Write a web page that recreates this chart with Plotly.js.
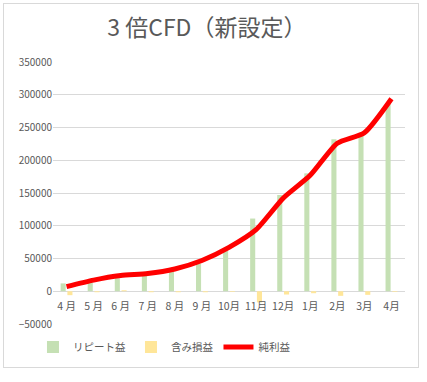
<!DOCTYPE html>
<html><head><meta charset="utf-8">
<script src="https://cdn.plot.ly/plotly-3.0.1.min.js"></script>
<style>
html,body{margin:0;padding:0;background:#fff;}
#wrap{position:absolute;left:3px;top:3px;width:414px;height:363px;border:1px solid #d9d9d9;}
#chart{width:414px;height:363px;}
</style></head>
<body><div id="wrap"><div id="chart"></div></div>
<script>
const months = ["4 月","5 月","6 月","7 月","8 月","9 月","10月","11月","12月","1月","2月","3月","4月"];
const repeatProfit = [12000,14000,20000,24000,29500,42000,62000,111000,147000,180000,232000,238000,287000];
const unrealizedLoss = [-6000,-1500,1500,-1500,-1500,-1500,-1000,-17000,-5000,-3000,-7000,-5500,-1000];
const netProfit = [7000,17000,24000,27000,34000,47000,67000,94000,142000,177000,226000,242000,294000];
const yMin = -50000, yMax = 350000;
const font = "'Noto Sans CJK JP', 'Noto Sans', sans-serif";
const data = [
  {type:'bar', name:'リピート益', x:months, y:repeatProfit, marker:{color:'#C5E0B4'}},
  {type:'bar', name:'含み損益', x:months, y:unrealizedLoss, marker:{color:'#FFE699'}},
  {type:'scatter', mode:'lines', name:'純利益', x:months, y:netProfit,
   line:{color:'#FF0000', width:5, shape:'spline', smoothing:0.6}}
];
const layout = {
  width:414, height:363,
  margin:{l:49, r:13, t:58, b:43, autoexpand:false},
  paper_bgcolor:'#fff', plot_bgcolor:'#fff',
  font:{family:font, size:10, color:'#595959'},
  title:{text:'3 倍CFD（新設定）', font:{family:font, size:23, color:'#595959'},
    xref:'container', x:0.49, xanchor:'center', yref:'container', y:0.934, yanchor:'middle'},
  barmode:'group', bargap:0.5, bargroupgap:0.25,
  xaxis:{type:'category', showgrid:false, zeroline:false, showline:false,
    ticks:'outside', ticklen:5, tickcolor:'rgba(0,0,0,0)',
    tickfont:{family:font, size:10.5, color:'#595959'},
    anchor:'free', position:(0 - yMin)/(yMax - yMin), fixedrange:true},
  yaxis:{range:[yMin, yMax], dtick:50000, tickformat:'d', showgrid:true, gridcolor:'#d9d9d9', gridwidth:1,
    zeroline:false, showline:false, ticks:'', ticklen:0,
    tickfont:{family:font, size:10, color:'#595959'}, automargin:false},
  showlegend:true,
  legend:{orientation:'h', xref:'container', x:0.07, xanchor:'left', yref:'container', y:0.055, yanchor:'middle',
    font:{family:font, size:10.5, color:'#595959'}, tracegroupgap:0, traceorder:'normal'}
};
Plotly.newPlot('chart', data, layout, {displayModeBar:false, staticPlot:true});
</script>
</body></html>
